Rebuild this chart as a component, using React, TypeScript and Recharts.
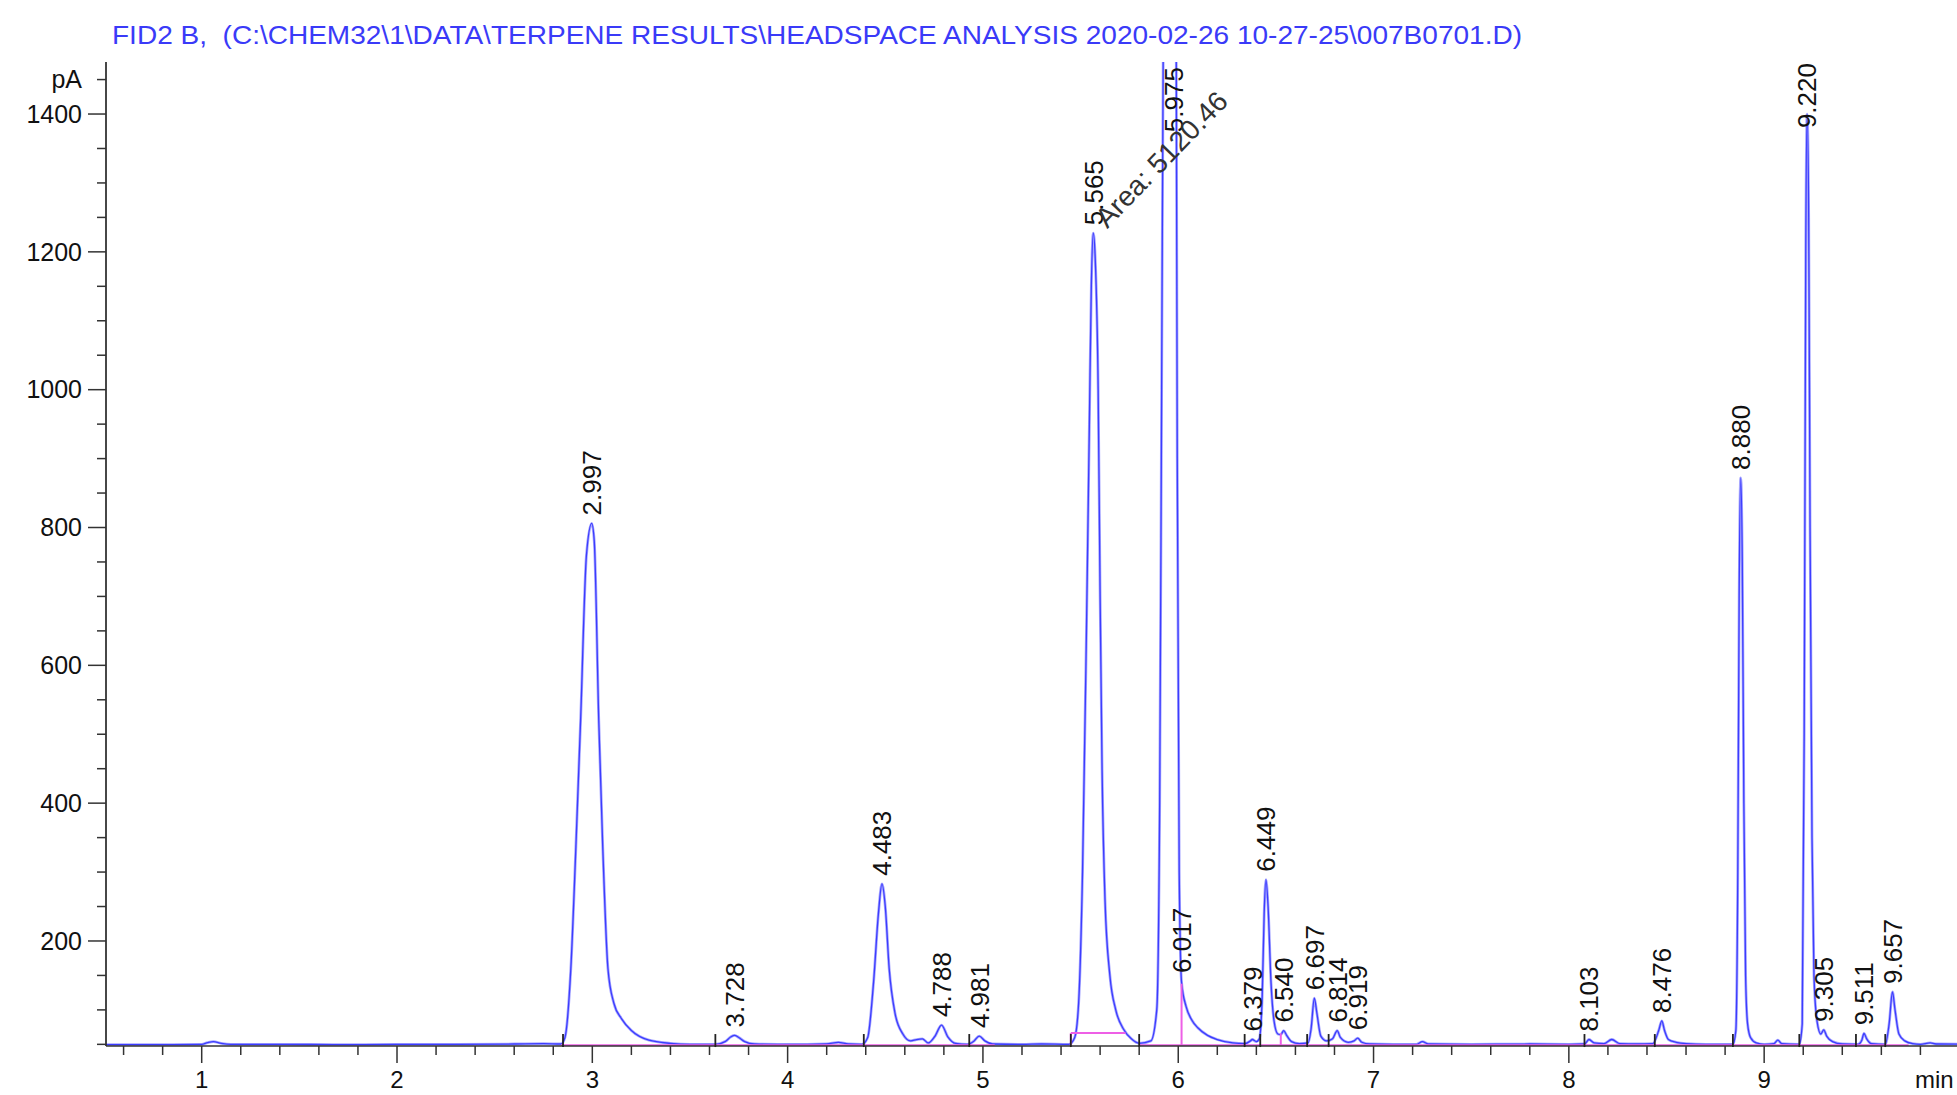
import React from 'react';
import {
  ComposedChart,
  Line,
  Scatter,
  XAxis,
  YAxis,
} from 'recharts';

// Chromatogram trace: [retention time (min), signal (pA)]
const trace: [number, number][] = [
  [0.51, 49.5], [0.8, 49.5], [1.0, 50], [1.03, 52.5], [1.06, 54], [1.1, 51.5], [1.15, 50], [1.4, 50], [1.7, 49.5],
  [2.0, 50], [2.3, 50], [2.6, 50.5], [2.75, 51], [2.84, 50.5],
  [2.86, 60], [2.89, 160], [2.915, 330], [2.94, 520], [2.97, 760], [2.997, 806],
  [3.01, 780], [3.033, 520], [3.053, 340], [3.08, 160], [3.11, 110], [3.15, 87], [3.2, 70], [3.29, 56], [3.4, 51.5],
  [3.5, 50], [3.63, 50], [3.68, 54], [3.71, 61], [3.728, 63], [3.75, 60], [3.78, 54], [3.83, 50.5], [3.95, 50],
  [4.1, 50], [4.2, 50.5], [4.26, 53], [4.31, 50.5], [4.38, 50],
  [4.41, 60], [4.44, 140], [4.465, 240], [4.483, 283], [4.5, 250], [4.52, 160], [4.55, 95], [4.59, 65], [4.63, 55],
  [4.66, 57], [4.69, 58], [4.72, 52], [4.755, 62], [4.788, 78], [4.82, 61], [4.86, 51.5], [4.92, 50], [4.955, 55],
  [4.981, 62], [5.01, 55], [5.05, 50.5], [5.2, 50], [5.3, 50.5], [5.44, 50],
  [5.47, 60], [5.49, 110], [5.51, 300], [5.53, 650], [5.545, 950], [5.555, 1150], [5.565, 1227], [5.575, 1190],
  [5.59, 1000], [5.6, 700], [5.61, 450], [5.625, 260], [5.65, 150], [5.68, 100], [5.72, 72], [5.76, 58], [5.8, 51.5],
  [5.86, 55], [5.89, 100], [5.905, 400], [5.915, 1000], [5.925, 1600], [5.95, 2100], [5.975, 2250], [5.985, 2000],
  [5.995, 900], [6.005, 300], [6.017, 140], [6.04, 105], [6.07, 85], [6.1, 74], [6.15, 63], [6.2, 57], [6.28, 52],
  [6.34, 51], [6.37, 55], [6.379, 57], [6.4, 54], [6.415, 58], [6.43, 120], [6.44, 240], [6.449, 289], [6.46, 250],
  [6.475, 140], [6.49, 85], [6.51, 65], [6.525, 64], [6.54, 70], [6.555, 63], [6.58, 54], [6.62, 51], [6.665, 52],
  [6.68, 72], [6.697, 117], [6.71, 95], [6.73, 62], [6.76, 55], [6.79, 58], [6.814, 70], [6.83, 60], [6.87, 53],
  [6.9, 55], [6.919, 59], [6.94, 53], [6.98, 50.5], [7.1, 50], [7.22, 50], [7.25, 54], [7.28, 50.5], [7.5, 50],
  [7.8, 50.5], [8.0, 50], [8.08, 50.5], [8.103, 57], [8.13, 52], [8.18, 51], [8.22, 57], [8.26, 51], [8.35, 50.5],
  [8.43, 51], [8.46, 70], [8.476, 84], [8.49, 70], [8.51, 57], [8.55, 53], [8.6, 51], [8.7, 50], [8.84, 50],
  [8.855, 70], [8.865, 300], [8.872, 700], [8.88, 872], [8.888, 750], [8.896, 400], [8.905, 150], [8.915, 80],
  [8.93, 60], [8.96, 52], [9.0, 50], [9.05, 51], [9.07, 56], [9.09, 51], [9.18, 50],
  [9.195, 80], [9.205, 500], [9.213, 1200], [9.22, 1400], [9.228, 1250], [9.235, 800], [9.245, 350], [9.255, 150],
  [9.27, 85], [9.29, 65], [9.305, 71], [9.32, 62], [9.35, 54], [9.4, 50.5], [9.48, 50], [9.5, 56], [9.511, 66],
  [9.525, 58], [9.55, 51], [9.62, 50], [9.64, 80], [9.657, 126], [9.67, 100], [9.69, 65], [9.72, 55], [9.76, 51],
  [9.8, 50], [9.85, 52], [9.88, 50.5], [10.1, 50],
];

// Peak labels: [retention time, label anchor (pA), text]
const peakLabels: [number, number, string][] = [
  [2.997, 806, '2.997'], [3.728, 63, '3.728'], [4.483, 283, '4.483'], [4.788, 78, '4.788'], [4.981, 62, '4.981'],
  [5.565, 1227, '5.565'], [5.975, 1362, '5.975'], [6.017, 142, '6.017'], [6.379, 57, '6.379'], [6.449, 289, '6.449'],
  [6.54, 70, '6.540'], [6.697, 117, '6.697'], [6.814, 70, '6.814'], [6.919, 59, '6.919'], [8.103, 57, '8.103'],
  [8.476, 84, '8.476'], [8.88, 872, '8.880'], [9.22, 1368, '9.220'], [9.305, 71, '9.305'], [9.511, 66, '9.511'],
  [9.657, 126, '9.657'],
];

const areaNotes: [number, number, string][] = [[5.565, 1227, 'Area: 5120.46']];

// Integration event marks on the baseline (min)
const eventMarks: number[] = [2.85, 3.63, 4.39, 4.93, 5.45, 5.8, 6.34, 6.42, 6.66, 6.77, 8.08, 8.44, 8.84, 9.18, 9.47, 9.62];

// Integration baselines (pink): [t1, v1, t2, v2]
const baselines: [number, number, number, number][] = [
  [2.84, 48.7, 5.06, 48.7],
  [5.45, 66.5, 5.73, 66.5],
  [5.45, 48.7, 5.45, 66.5],
  [5.8, 48.7, 9.74, 48.7],
  [6.017, 48.7, 6.017, 138],
  [6.525, 48.7, 6.525, 66],
];

const yTicks: number[] = [50, 100, 150, 200, 250, 300, 350, 400, 450, 500, 550, 600, 650, 700, 750, 800, 850, 900, 950,
  1000, 1050, 1100, 1150, 1200, 1250, 1300, 1350, 1400, 1450];
const xTicks: number[] = [0.6, 0.8, 1, 1.2, 1.4, 1.6, 1.8, 2, 2.2, 2.4, 2.6, 2.8, 3, 3.2, 3.4, 3.6, 3.8, 4, 4.2, 4.4, 4.6,
  4.8, 5, 5.2, 5.4, 5.6, 5.8, 6, 6.2, 6.4, 6.6, 6.8, 7, 7.2, 7.4, 7.6, 7.8, 8, 8.2, 8.4, 8.6, 8.8, 9, 9.2, 9.4, 9.6,
  9.8];

const TITLE = 'FID2 B,  (C:\\CHEM32\\1\\DATA\\TERPENE RESULTS\\HEADSPACE ANALYSIS 2020-02-26 10-27-25\\007B0701.D)';

const FONT = '"Liberation Sans", Arial, sans-serif';
const AXIS = '#333';

const traceData = trace.map(([t, v]) => ({ t, v }));
const labelData = peakLabels.map(([t, v, text]) => ({ t, v, text }));
const areaData = areaNotes.map(([t, v, text]) => ({ t, v, text }));
const eventData = eventMarks.map((t) => ({ t, v: 49 }));
const baselineData = baselines.map(([t1, v1, t2, v2]) => [{ t: t1, v: v1 }, { t: t2, v: v2 }]);

const YTick = (props: any) => {
  const { x, y, payload } = props;
  const v = payload.value;
  const major = v % 200 === 0;
  const label = major ? String(v) : v === 1450 ? 'pA' : null;
  return (
    <g>
      <line x1={x - (major ? 18 : 9)} x2={x} y1={y} y2={y} stroke={AXIS} strokeWidth={1.5} />
      {label && (
        <text x={x - 24} y={y} dy="0.35em" textAnchor="end" fontSize={25} fontFamily={FONT} fill="#111">
          {label}
        </text>
      )}
    </g>
  );
};

const XTick = (props: any) => {
  const { x, y, payload } = props;
  const v = payload.value;
  const major = Math.abs(v - Math.round(v)) < 1e-6;
  return (
    <g>
      <line x1={x} x2={x} y1={y} y2={y + (major ? 17 : 9)} stroke={AXIS} strokeWidth={1.5} />
      {major && (
        <text x={x} y={y + 34} dy="0.35em" textAnchor="middle" fontSize={24} fontFamily={FONT} fill="#111">
          {String(Math.round(v))}
        </text>
      )}
    </g>
  );
};

const PeakLabel = (props: any) => {
  const { cx, cy, payload } = props;
  if (cx == null || cy == null) return <g />;
  const ax = cx;
  const ay = cy - 8;
  return (
    <text
      x={ax}
      y={ay}
      dy="0.36em"
      transform={`rotate(-90 ${ax} ${ay})`}
      textAnchor="start"
      fontSize={26}
      fontFamily={FONT}
      fill="#111"
    >
      {payload.text}
    </text>
  );
};

const AreaLabel = (props: any) => {
  const { cx, cy, payload } = props;
  if (cx == null || cy == null) return <g />;
  const ax = cx + 14;
  const ay = cy - 4;
  return (
    <text x={ax} y={ay} transform={`rotate(-46 ${ax} ${ay})`} textAnchor="start" fontSize={28} fontFamily={FONT} fill="#333">
      {payload.text}
    </text>
  );
};

const EventMark = (props: any) => {
  const { cx, cy } = props;
  if (cx == null || cy == null) return <g />;
  return <line x1={cx} x2={cx} y1={cy + 2} y2={cy - 11} stroke="#222" strokeWidth={1.8} />;
};

const Y_DOMAIN: [number, number] = [47.6, 1475.5];

export default function App() {
  return (
    <div style={{ position: 'fixed', left: 0, top: 0, width: 1957, height: 1095, overflow: 'hidden', background: '#fff' }}>
      <ComposedChart width={1989} height={1095} margin={{ top: 62, right: 10, bottom: 0, left: 0 }}>
        <XAxis
          type="number"
          dataKey="t"
          domain={[0.51, 10.1]}
          ticks={xTicks}
          interval={0}
          tickSize={0}
          tickMargin={0}
          tick={<XTick />}
          height={49}
          axisLine={{ stroke: AXIS, strokeWidth: 1.5 }}
          tickLine={false}
        />
        <YAxis
          yAxisId="main"
          type="number"
          domain={Y_DOMAIN}
          allowDataOverflow
          ticks={yTicks}
          interval={0}
          tickSize={0}
          tickMargin={0}
          tick={<YTick />}
          width={106}
          axisLine={{ stroke: AXIS, strokeWidth: 1.8 }}
          tickLine={false}
        />
        <YAxis yAxisId="lab" type="number" domain={Y_DOMAIN} hide width={0} />
        <Line
          yAxisId="main"
          data={traceData}
          dataKey="v"
          type="monotone"
          stroke="#a8a8ff"
          strokeWidth={2.8}
          dot={false}
          activeDot={false}
          isAnimationActive={false}
        />
        <Line
          yAxisId="main"
          data={traceData}
          dataKey="v"
          type="monotone"
          stroke="#3c3cff"
          strokeWidth={1.3}
          dot={false}
          activeDot={false}
          isAnimationActive={false}
        />
        {baselineData.map((seg, i) => (
          <Line
            key={`bl${i}`}
            yAxisId="main"
            data={seg}
            dataKey="v"
            type="linear"
            stroke="#ee5fe6"
            strokeWidth={2}
            dot={false}
            activeDot={false}
            isAnimationActive={false}
          />
        ))}
        <Scatter yAxisId="lab" data={eventData} dataKey="v" shape={<EventMark />} isAnimationActive={false} />
        <Scatter yAxisId="lab" data={labelData} dataKey="v" shape={<PeakLabel />} isAnimationActive={false} />
        <Scatter yAxisId="lab" data={areaData} dataKey="v" shape={<AreaLabel />} isAnimationActive={false} />
      </ComposedChart>
      <svg
        width={1957}
        height={1095}
        style={{ position: 'absolute', left: 0, top: 0, pointerEvents: 'none' }}
      >
        <text
          x={112}
          y={44}
          fontSize={26}
          fontFamily={FONT}
          fill="#3a3af8"
          textLength={1410}
          lengthAdjust="spacingAndGlyphs"
          style={{ whiteSpace: 'pre' }}
        >
          {TITLE}
        </text>
        <text x={1915} y={1080} dy="0.35em" fontSize={24} fontFamily={FONT} fill="#111">
          min
        </text>
      </svg>
    </div>
  );
}
